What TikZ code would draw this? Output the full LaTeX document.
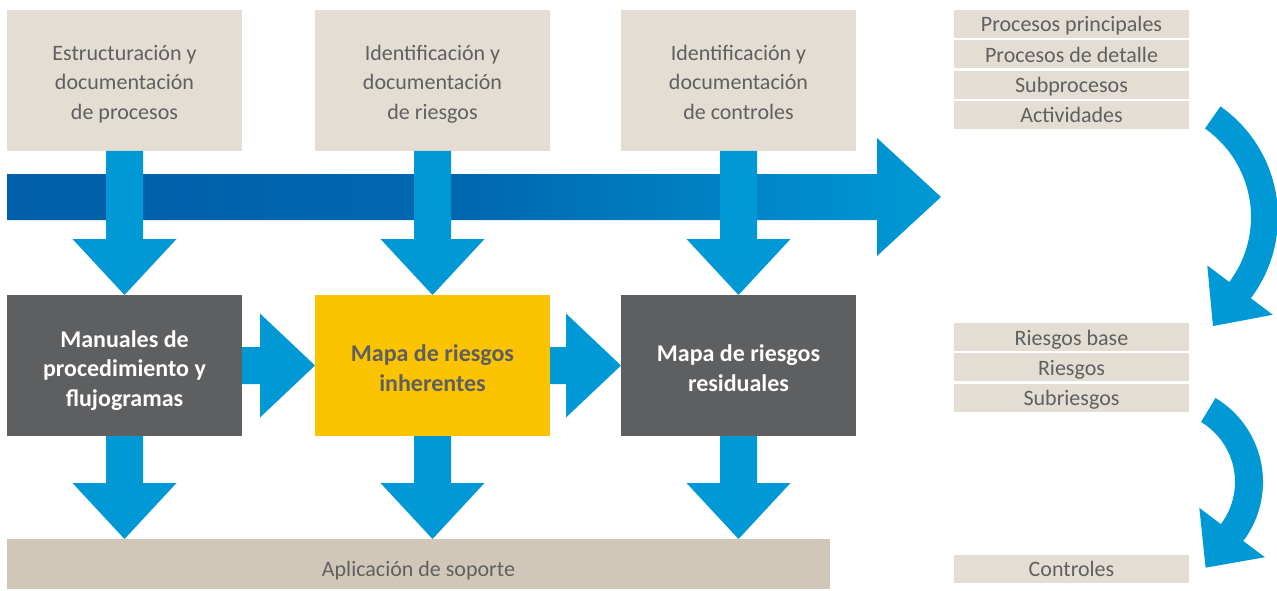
\documentclass[tikz,border=0pt]{standalone}
\usepackage{fontspec}
\setmainfont{Carlito}
\usetikzlibrary{positioning,calc}

\definecolor{sand}{HTML}{E4DDD3}
\definecolor{sanddark}{HTML}{D0C7B8}
\definecolor{slate}{HTML}{5E5F61}
\definecolor{amber}{HTML}{FCC300}
\definecolor{textgray}{HTML}{5F6062}
\definecolor{flowblue}{HTML}{0099D6}
\definecolor{banddark}{HTML}{005FA8}
\definecolor{bandmid}{HTML}{0068B2}

\pgfdeclarehorizontalshading{bandshade}{100bp}{color(0bp)=(banddark); color(25bp)=(banddark); color(50bp)=(bandmid); color(75bp)=(flowblue); color(100bp)=(flowblue)}

% block arrow straight down, from one node to the next
\newcommand{\flowdown}[2]{%
  \fill[flow] let \p1=(#1.south), \p2=(#2.north) in
    (\x1-18.5pt,\y1) -- (\x1-18.5pt,\y2+56pt) -- (\x1-52pt,\y2+56pt) -- (\x1,\y2)
    -- (\x1+52pt,\y2+56pt) -- (\x1+18.5pt,\y2+56pt) -- (\x1+18.5pt,\y1) -- cycle;}
% block arrow to the right
\newcommand{\flowright}[2]{%
  \fill[flow] let \p1=(#1.east), \p2=(#2.west) in
    (\x1,\y1+18.5pt) -- (\x2-55pt,\y1+18.5pt) -- (\x2-55pt,\y1+52pt) -- (\x2,\y1)
    -- (\x2-55pt,\y1-52pt) -- (\x2-55pt,\y1-18.5pt) -- (\x1,\y1-18.5pt) -- cycle;}

\begin{document}
\begin{tikzpicture}[
  x=1pt, y=-1pt,
  every node/.style={font=\fontsize{22}{29.5}\selectfont, align=center, inner sep=0pt, outer sep=0pt},
  struts/.style 2 args={execute at begin node={\rule{0pt}{#1}}, execute at end node={\rule[-#2]{0pt}{#2}}},
  stepin/.style={fill=sand, text=textgray, minimum width=235pt, minimum height=141pt, struts={84pt}{6pt}},
  result/.style={fill=slate, text=white, font=\fontsize{24}{29.5}\selectfont\bfseries, minimum width=235pt, minimum height=141pt},
  threeline/.style={struts={88pt}{7pt}},
  twoline/.style={struts={58pt}{7pt}},
  inherent/.style={result, fill=amber, text=slate},
  support/.style={fill=sanddark, text=textgray, minimum width=823pt, minimum height=50pt, struts={30pt}{6pt}},
  item/.style={fill=sand, text=textgray, minimum width=235pt, minimum height=28pt, struts={22pt}{6pt}},
  flow/.style={fill=flowblue}
]
\useasboundingbox (0,0) rectangle (1277,591);

% process columns
\node[stepin] (estr) at (124.5,80.5) {Estructuración y\\documentación\\de procesos};
\node[stepin, right=73pt of estr] (idries) {Identificación y\\documentación\\de riesgos};
\node[stepin, right=71pt of idries] (idctrl) {Identificación y\\documentación\\de controles};
\node[result, threeline, below=144pt of estr] (manual) {Manuales de\\procedimiento y\\flujogramas};
\node[inherent, twoline, below=144pt of idries] (inher) {Mapa de riesgos\\inherentes};
\node[result, twoline, below=144pt of idctrl] (resid) {Mapa de riesgos\\residuales};
\node[support, below=103pt of manual.south west, anchor=north west] (soporte) {Aplicación de soporte};

% levels on the right
\node[item] (pprin) at (1071.5,24) {Procesos principales};
\node[item, below=2.3pt of pprin] (pdet) {Procesos de detalle};
\node[item, below=2.3pt of pdet] (subp) {Subprocesos};
\node[item, below=2.3pt of subp] (activ) {Actividades};
\node[item] (rbase) at (1071.5,337) {Riesgos base};
\node[item, below=2.3pt of rbase] (riesg) {Riesgos};
\node[item, below=2.3pt of riesg] (subr) {Subriesgos};
\node[item] (contr) at (1071.5,568.5) {Controles};

% big band
\coordinate (bandtail) at (7,197);
\coordinate (bandtip) at (941,197);
\shade[shading=bandshade] let \p1=(bandtail), \p2=(bandtip) in
  (\x1,\y1+23pt) -- (\x2-64pt,\y1+23pt) -- (\x2-64pt,\y1+59pt) -- (\x2,\y2)
  -- (\x2-64pt,\y1-59pt) -- (\x2-64pt,\y1-23pt) -- (\x1,\y1-23pt) -- cycle;

\flowdown{estr}{manual}
\flowdown{idries}{inher}
\flowdown{idctrl}{resid}
\flowright{manual}{inher}
\flowright{inher}{resid}
\flowdown{manual}{soporte}
\flowdown{inher}{soporte}
\flowdown{resid}{soporte}

% turning arrows
\coordinate (turn1) at (1143,217);
\fill[flow] ($(turn1)+(-55:135)$) arc[start angle=-55, end angle=37, radius=135]
  -- ($(turn1)+(37:162.5)$) -- ($(turn1)+(37:121.5)+(127:45)$) -- ($(turn1)+(37:80.5)$)
  -- ($(turn1)+(37:108)$) arc[start angle=37, end angle=-55, radius=108] -- cycle;
\coordinate (turn2) at (1165,482);
\fill[flow] ($(turn2)+(-59:98)$) arc[start angle=-59, end angle=37, radius=98]
  -- ($(turn2)+(37:125)$) -- ($(turn2)+(37:84)+(127:44)$) -- ($(turn2)+(37:43)$)
  -- ($(turn2)+(37:70)$) arc[start angle=37, end angle=-59, radius=70] -- cycle;
\end{tikzpicture}
\end{document}
